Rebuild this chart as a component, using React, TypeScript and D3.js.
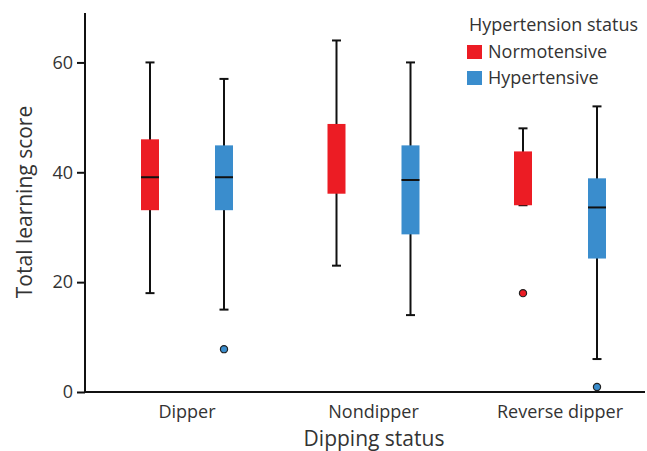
import { useRef, useEffect } from "react";
import * as d3 from "d3";

const categories = ["Dipper", "Nondipper", "Reverse dipper"];
const groups = ["Normotensive", "Hypertensive"];
const colors = ["#ec1c24", "#3a8dcd"];

// one entry per category, per group
const whiskerLow = [
  [18, 15],
  [23, 14],
  [34, 6],
];
const q1 = [
  [33.1, 33.1],
  [36.1, 28.7],
  [34, 24.3],
];
const median: (number | null)[][] = [
  [39.1, 39.1],
  [null, 38.6],
  [null, 33.6],
];
const q3 = [
  [46, 44.9],
  [48.8, 44.9],
  [43.8, 38.9],
];
const whiskerHigh = [
  [60, 57],
  [64, 60],
  [48, 52],
];
const outliers: number[][][] = [
  [[], [7.8]],
  [[], []],
  [[18], [0.9]],
];
const yTicks = [0, 20, 40, 60];

const W = 647;
const H = 451;
const font = "'Open Sans', sans-serif";
const textColor = "#333333";

const App = () => {
  const svgRef = useRef<SVGSVGElement>(null);

  useEffect(() => {
    document.body.style.margin = "0";
    const svg = d3.select(svgRef.current);
    svg.selectAll("*").remove();

    const x = d3.scalePoint().domain(categories).range([187, 560]);
    const xg = d3.scalePoint().domain(groups).range([-37, 37]);
    const y = d3.scaleLinear().domain([0, 69]).range([392, 13]);
    const boxW = 18;
    const capW = 9;

    // boxes
    categories.forEach((cat, ci) => {
      groups.forEach((g, gi) => {
        const cx = x(cat)! + xg(g)!;
        const gEl = svg.append("g");
        gEl
          .append("line")
          .attr("x1", cx)
          .attr("x2", cx)
          .attr("y1", y(whiskerLow[ci][gi]))
          .attr("y2", y(whiskerHigh[ci][gi]))
          .attr("stroke", "#111")
          .attr("stroke-width", 2);
        [whiskerLow[ci][gi], whiskerHigh[ci][gi]].forEach((v) => {
          gEl
            .append("line")
            .attr("x1", cx - capW / 2)
            .attr("x2", cx + capW / 2)
            .attr("y1", y(v))
            .attr("y2", y(v))
            .attr("stroke", "#111")
            .attr("stroke-width", 2);
        });
        gEl
          .append("rect")
          .attr("x", cx - boxW / 2)
          .attr("width", boxW)
          .attr("y", y(q3[ci][gi]))
          .attr("height", y(q1[ci][gi]) - y(q3[ci][gi]))
          .attr("fill", colors[gi]);
        const m = median[ci][gi];
        if (m !== null) {
          gEl
            .append("line")
            .attr("x1", cx - boxW / 2)
            .attr("x2", cx + boxW / 2)
            .attr("y1", y(m))
            .attr("y2", y(m))
            .attr("stroke", "#111")
            .attr("stroke-width", 2);
        }
        outliers[ci][gi].forEach((v) => {
          gEl
            .append("circle")
            .attr("cx", cx)
            .attr("cy", y(v))
            .attr("r", 3.6)
            .attr("fill", colors[gi])
            .attr("stroke", "#222")
            .attr("stroke-width", 1.2);
        });
      });
    });

    // y axis
    const yAxis = svg
      .append("g")
      .attr("transform", "translate(85,0)")
      .call(d3.axisLeft(y).tickValues(yTicks).tickSize(8).tickPadding(4));
    yAxis.select(".domain").remove();
    yAxis.selectAll("line").attr("stroke", "#111").attr("stroke-width", 2);
    yAxis
      .selectAll("text")
      .attr("fill", textColor)
      .style("font-family", font)
      .style("font-size", "18px");
    svg
      .append("line")
      .attr("x1", 85)
      .attr("x2", 85)
      .attr("y1", 13)
      .attr("y2", 393)
      .attr("stroke", "#111")
      .attr("stroke-width", 2);

    // x axis
    svg
      .append("line")
      .attr("x1", 84)
      .attr("x2", 645)
      .attr("y1", 392)
      .attr("y2", 392)
      .attr("stroke", "#111")
      .attr("stroke-width", 2);
    svg
      .append("g")
      .selectAll("text")
      .data(categories)
      .join("text")
      .attr("x", (d) => x(d)!)
      .attr("y", 418)
      .attr("text-anchor", "middle")
      .attr("fill", textColor)
      .style("font-family", font)
      .style("font-size", "18px")
      .text((d) => d);

    // axis titles
    svg
      .append("text")
      .attr("x", 374)
      .attr("y", 446)
      .attr("text-anchor", "middle")
      .attr("fill", textColor)
      .style("font-family", font)
      .style("font-size", "21px")
      .text("Dipping status");
    svg
      .append("text")
      .attr("transform", "translate(32,202) rotate(-90)")
      .attr("text-anchor", "middle")
      .attr("fill", textColor)
      .style("font-family", font)
      .style("font-size", "21px")
      .text("Total learning score");

    // legend
    const legend = svg.append("g").attr("transform", "translate(467,0)");
    legend
      .append("text")
      .attr("x", 2)
      .attr("y", 31)
      .attr("fill", textColor)
      .style("font-family", font)
      .style("font-size", "18px")
      .text("Hypertension status");
    groups.forEach((g, gi) => {
      legend
        .append("rect")
        .attr("x", 0)
        .attr("y", 45 + gi * 26)
        .attr("width", 15)
        .attr("height", 14)
        .attr("fill", colors[gi]);
      legend
        .append("text")
        .attr("x", 21)
        .attr("y", 58 + gi * 26)
        .attr("fill", textColor)
        .style("font-family", font)
        .style("font-size", "18px")
        .text(g);
    });
  }, []);

  return <svg ref={svgRef} width={W} height={H} style={{ display: "block", background: "#fff" }}></svg>;
};

export default App;
